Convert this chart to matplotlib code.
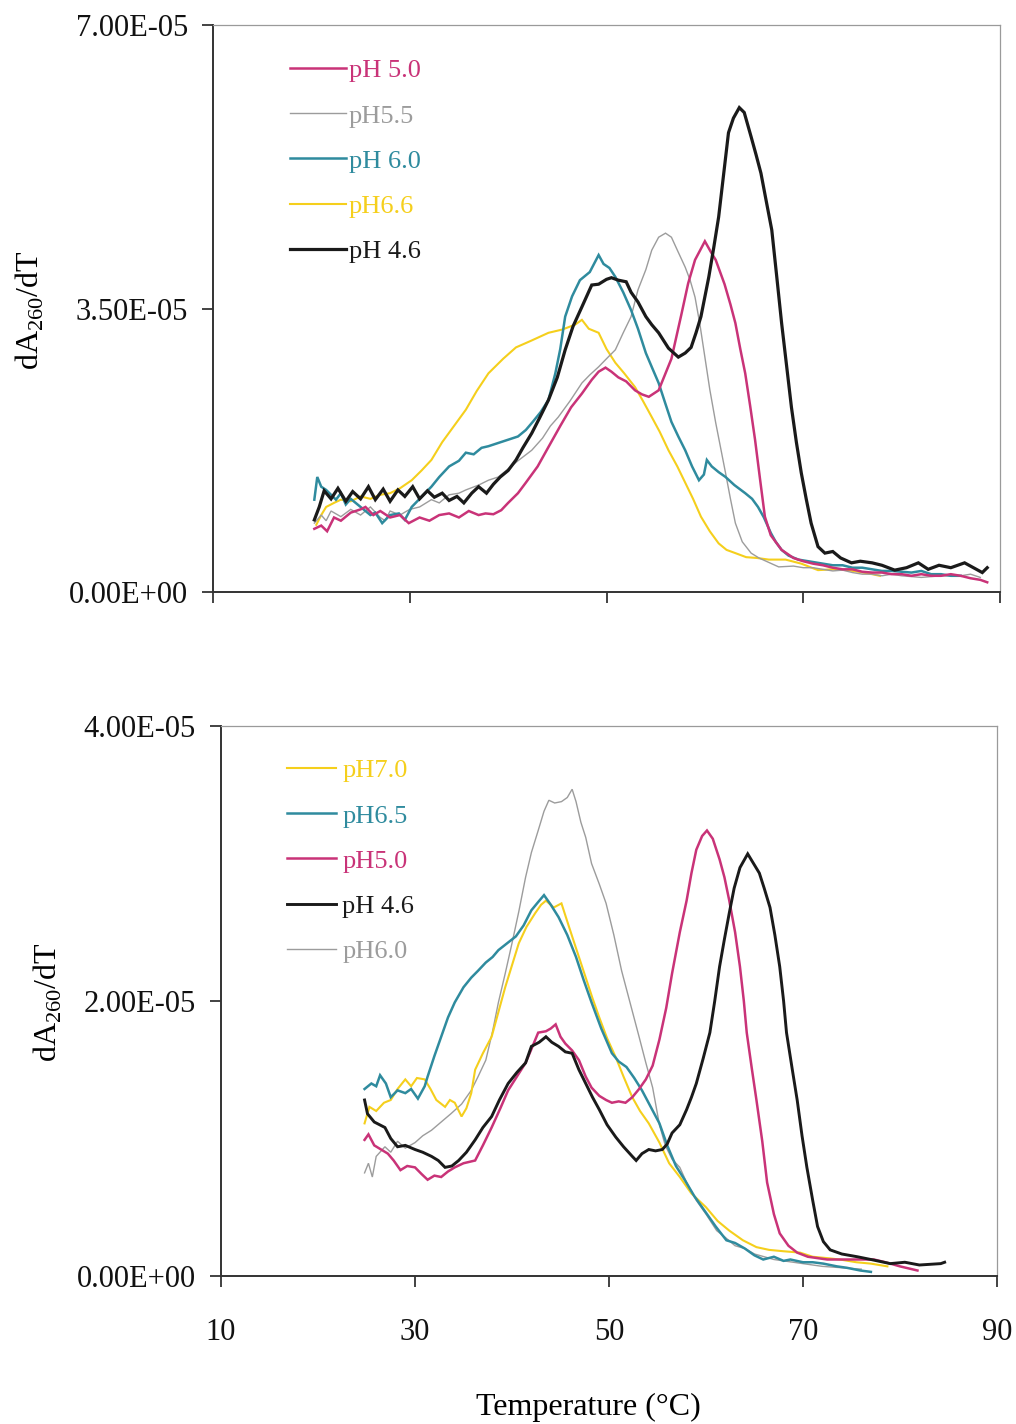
import matplotlib
matplotlib.use("Agg")
import matplotlib.pyplot as plt
import numpy as np

plt.rcParams['font.family'] = ['Liberation Serif', 'DejaVu Serif']
plt.rcParams['mathtext.fontset'] = 'custom'
plt.rcParams['mathtext.rm'] = 'Liberation Serif'

SCALE = 1e-5  # derivative values below are in units of 1e-5

# ---------------- Upper panel: melting derivative curves ----------------
top_ph50_T = [20.3, 21, 21.6, 22.3, 23, 24, 25, 25.5, 26.3, 27, 28, 29, 29.9, 31, 32, 33, 34, 35, 36, 37,
              37.7, 38.5, 39.3, 40, 41, 41.8, 43, 44.1, 45.3, 46.4, 47.5, 48.5, 49.2, 49.9, 50.5, 51.2, 52,
              52.9, 53.6, 54.3, 55.3, 56, 56.6, 57.1, 57.6, 58.3, 59, 60, 60.6, 61.1, 62, 62.6, 63.1, 63.6,
              64.1, 64.6, 65.1, 65.6, 66.1, 66.7, 67.8, 69, 70, 71, 72, 73, 74, 75, 76, 77, 78, 79, 80, 81,
              82, 83, 84, 85, 86, 87, 88, 88.7]
top_ph50_v = [0.78, 0.82, 0.75, 0.92, 0.88, 0.98, 1.02, 1.05, 0.95, 1.00, 0.92, 0.95, 0.85, 0.92, 0.88, 0.95,
              0.97, 0.92, 1.00, 0.95, 0.97, 0.96, 1.01, 1.10, 1.22, 1.35, 1.55, 1.79, 2.05, 2.28, 2.45, 2.62,
              2.72, 2.77, 2.72, 2.65, 2.60, 2.49, 2.44, 2.41, 2.49, 2.70, 2.88, 3.15, 3.42, 3.81, 4.10, 4.33,
              4.20, 4.10, 3.80, 3.55, 3.32, 3.00, 2.70, 2.30, 1.88, 1.40, 0.93, 0.70, 0.52, 0.42, 0.38, 0.35,
              0.33, 0.30, 0.28, 0.28, 0.25, 0.24, 0.24, 0.22, 0.22, 0.20, 0.22, 0.20, 0.20, 0.22, 0.20, 0.17,
              0.15, 0.12]

top_ph55_T = [20.3, 21, 21.5, 22, 23, 24, 25, 26, 27, 27.5, 28, 29, 30, 31, 32.2, 33, 34, 35, 35.7, 37, 38,
              39, 40, 41, 42.4, 43.5, 44.3, 45.1, 46.3, 47.5, 48.3, 49.2, 50, 50.9, 51.7, 52.5, 53.2, 54,
              54.6, 55.3, 56, 56.6, 57.2, 58, 58.5, 59, 59.5, 60, 60.5, 61.1, 61.6, 62.1, 62.6, 63.1, 63.8,
              64.7, 65.5, 67.5, 69, 70, 71, 72, 73, 74, 75, 76, 77, 78, 79, 80, 82, 84, 86, 87, 88]
top_ph55_v = [0.85, 0.95, 0.88, 1.00, 0.93, 1.02, 0.95, 1.05, 0.92, 0.88, 1.00, 0.95, 1.02, 1.05, 1.14, 1.10,
              1.20, 1.22, 1.26, 1.32, 1.38, 1.42, 1.52, 1.62, 1.75, 1.90, 2.05, 2.16, 2.36, 2.58, 2.68, 2.78,
              2.88, 2.99, 3.20, 3.40, 3.73, 3.98, 4.22, 4.38, 4.43, 4.38, 4.22, 4.01, 3.85, 3.64, 3.30, 2.90,
              2.50, 2.09, 1.78, 1.47, 1.15, 0.85, 0.62, 0.48, 0.42, 0.31, 0.32, 0.30, 0.30, 0.28, 0.26, 0.27,
              0.24, 0.22, 0.22, 0.20, 0.22, 0.20, 0.18, 0.20, 0.20, 0.22, 0.18]

top_ph60_T = [20.3, 20.6, 21, 21.5, 22, 22.5, 23, 23.5, 24, 25, 26, 26.5, 27.2, 28, 28.9, 29.5, 30.2, 31,
              32.2, 33, 34, 35, 35.7, 36.5, 37.3, 38, 39, 40, 41, 41.8, 42.5, 43.3, 44.1, 44.8, 45.3, 45.8,
              46.5, 47.3, 48.3, 49.2, 49.7, 50.3, 50.9, 51.7, 52.5, 53.2, 54, 54.7, 55.3, 56, 56.6, 57.3, 58,
              58.7, 59.4, 59.9, 60.2, 60.7, 61.4, 62.1, 63, 64.1, 64.8, 65.4, 66, 66.7, 67.2, 67.8, 68.5,
              69.5, 70.5, 72, 73, 74, 75, 76, 77, 78, 79, 80, 81, 82, 83, 84, 85, 86]
top_ph60_v = [1.14, 1.42, 1.30, 1.26, 1.20, 1.14, 1.22, 1.08, 1.15, 1.05, 0.95, 0.98, 0.85, 0.95, 0.97, 0.89,
              1.05, 1.15, 1.30, 1.42, 1.55, 1.62, 1.72, 1.70, 1.78, 1.80, 1.84, 1.88, 1.92, 2.00, 2.10, 2.22,
              2.37, 2.70, 3.00, 3.40, 3.65, 3.85, 3.95, 4.16, 4.05, 4.00, 3.89, 3.70, 3.48, 3.25, 2.95, 2.75,
              2.58, 2.32, 2.10, 1.92, 1.75, 1.55, 1.38, 1.45, 1.63, 1.55, 1.48, 1.42, 1.32, 1.22, 1.15, 1.05,
              0.92, 0.73, 0.62, 0.52, 0.45, 0.40, 0.38, 0.35, 0.33, 0.33, 0.30, 0.30, 0.28, 0.26, 0.26, 0.25,
              0.24, 0.26, 0.22, 0.22, 0.20, 0.20]

top_ph66_T = [20.5, 21, 21.5, 22.3, 23, 24, 25, 26, 27, 28, 29, 30.2, 31.2, 32.2, 33.3, 34.5, 35.7, 36.8,
              38, 39.5, 40.8, 42.3, 44.1, 45.5, 46.8, 47.5, 48.2, 49.2, 50, 50.9, 51.8, 52.9, 53.7, 54.6,
              55.4, 56.3, 57.2, 58, 58.8, 59.6, 60.5, 61.4, 62.2, 63.1, 64.2, 65.3, 66.5, 68.2, 69.8, 71.5,
              73, 74.5, 76.6, 77.8]
top_ph66_v = [0.83, 0.95, 1.05, 1.10, 1.14, 1.12, 1.18, 1.15, 1.20, 1.22, 1.28, 1.38, 1.50, 1.63, 1.85, 2.05,
              2.25, 2.48, 2.70, 2.88, 3.02, 3.10, 3.20, 3.24, 3.30, 3.36, 3.25, 3.20, 3.00, 2.83, 2.70, 2.53,
              2.36, 2.16, 1.98, 1.75, 1.55, 1.35, 1.15, 0.93, 0.75, 0.60, 0.52, 0.48, 0.43, 0.42, 0.40, 0.40,
              0.35, 0.27, 0.28, 0.27, 0.23, 0.20]

top_ph46_T = [20.3, 20.8, 21.3, 22, 22.7, 23.5, 24.2, 25, 25.8, 26.5, 27.3, 28, 28.8, 29.5, 30.3, 31, 31.8,
              32.5, 33.3, 34, 34.8, 35.5, 36.3, 37, 37.8, 38.5, 39.2, 40, 40.8, 41.5, 42.4, 43.2, 44.1, 45,
              45.8, 46.6, 47.5, 48.5, 49.2, 50, 50.5, 51.2, 52, 52.5, 53.2, 54, 54.6, 55.3, 56.3, 57.3, 58,
              58.6, 59.1, 59.6, 60.4, 60.9, 61.4, 61.9, 62.4, 62.9, 63.5, 64, 64.7, 65.2, 65.7, 66.2, 66.8,
              67.3, 67.8, 68.3, 68.8, 69.3, 69.8, 70.3, 70.8, 71.5, 72.2, 73, 73.8, 74.9, 75.8, 77, 78,
              79.3, 80.5, 81.7, 82.7, 83.8, 85, 86.4, 87.3, 88.2, 88.7]
top_ph46_v = [0.89, 1.05, 1.25, 1.15, 1.28, 1.12, 1.24, 1.15, 1.30, 1.14, 1.27, 1.12, 1.26, 1.18, 1.30, 1.15,
              1.25, 1.17, 1.22, 1.13, 1.18, 1.10, 1.22, 1.30, 1.22, 1.33, 1.42, 1.50, 1.63, 1.78, 1.96, 2.15,
              2.37, 2.65, 2.99, 3.28, 3.52, 3.79, 3.80, 3.86, 3.88, 3.85, 3.83, 3.70, 3.58, 3.40, 3.30, 3.20,
              3.01, 2.90, 2.95, 3.02, 3.20, 3.40, 3.89, 4.25, 4.63, 5.15, 5.67, 5.85, 5.98, 5.92, 5.62, 5.40,
              5.17, 4.85, 4.47, 3.90, 3.32, 2.80, 2.28, 1.85, 1.47, 1.15, 0.85, 0.56, 0.48, 0.50, 0.42, 0.36,
              0.38, 0.36, 0.33, 0.27, 0.30, 0.36, 0.28, 0.33, 0.30, 0.36, 0.30, 0.24, 0.30]

# ---------------- Lower panel ----------------
bot_ph70_T = [24.8, 25.3, 26, 26.8, 27.5, 28.2, 29, 29.6, 30.2, 31, 31.6, 32.2, 33.1, 33.6, 34.1, 34.8, 35.3,
              35.8, 36.2, 37, 37.9, 38.6, 39.3, 40, 40.7, 41.5, 42.4, 43, 43.5, 44.3, 45.1, 45.6, 46.2, 46.9,
              47.6, 48.3, 49, 49.8, 50.7, 51.5, 52.4, 53.2, 54.1, 55.2, 56.2, 57.3, 58.5, 60, 61.2, 62.4,
              63.8, 65.2, 66.5, 68, 69.7, 71, 72.5, 73.8, 75.5, 77, 78.7]
bot_ph70_v = [1.11, 1.23, 1.20, 1.26, 1.28, 1.36, 1.43, 1.38, 1.44, 1.43, 1.36, 1.28, 1.23, 1.28, 1.26, 1.16,
              1.22, 1.33, 1.50, 1.62, 1.74, 1.92, 2.10, 2.26, 2.42, 2.54, 2.64, 2.70, 2.73, 2.68, 2.71, 2.60,
              2.47, 2.32, 2.17, 2.02, 1.88, 1.73, 1.59, 1.45, 1.30, 1.20, 1.11, 0.97, 0.82, 0.72, 0.60, 0.50,
              0.40, 0.33, 0.26, 0.21, 0.19, 0.18, 0.17, 0.14, 0.13, 0.12, 0.10, 0.09, 0.07]

bot_ph65_T = [24.8, 25.5, 26, 26.4, 27, 27.5, 28.2, 29, 29.6, 30.3, 31, 31.3, 32, 32.7, 33.4, 34.1, 35, 35.8,
              36.5, 37.3, 38, 38.6, 39.5, 40.4, 41.2, 42, 42.7, 43.3, 44, 44.8, 45.7, 46.6, 47.4, 48.2, 49.2,
              50.3, 51, 51.8, 52.6, 53.4, 54.3, 55.2, 56, 56.9, 57.8, 58.8, 60, 61, 62.1, 63, 64, 65, 65.9,
              67, 68, 68.7, 70, 71, 72.1, 73.5, 74.5, 75.9, 77]
bot_ph65_v = [1.36, 1.40, 1.38, 1.46, 1.40, 1.30, 1.35, 1.33, 1.36, 1.29, 1.38, 1.45, 1.60, 1.74, 1.88, 1.99,
              2.10, 2.17, 2.22, 2.28, 2.32, 2.37, 2.42, 2.47, 2.55, 2.66, 2.72, 2.77, 2.70, 2.61, 2.48, 2.32,
              2.15, 1.99, 1.80, 1.62, 1.56, 1.52, 1.44, 1.35, 1.23, 1.11, 0.95, 0.80, 0.70, 0.58, 0.46, 0.36,
              0.26, 0.24, 0.20, 0.15, 0.12, 0.14, 0.11, 0.12, 0.10, 0.10, 0.09, 0.07, 0.06, 0.04, 0.03]

bot_ph50_T = [24.8, 25.2, 25.8, 26.5, 27.2, 27.8, 28.5, 29.2, 30, 30.7, 31.3, 32, 32.7, 33.4, 34.1, 35, 36.2,
              37, 37.9, 38.8, 39.6, 40.5, 41.4, 42, 42.7, 43.5, 44, 44.5, 45, 45.5, 46.2, 46.9, 47.6, 48.2,
              49, 49.7, 50.3, 51, 51.7, 52.4, 53.1, 53.8, 54.5, 55.2, 55.9, 56.5, 57.3, 58, 58.5, 59, 59.6,
              60.1, 60.7, 61.4, 61.9, 62.4, 63, 63.5, 63.9, 64.2, 64.7, 65.2, 65.8, 66.3, 67, 67.6, 68.5,
              69.4, 70.5, 72.5, 74, 75.5, 77.3, 78.5, 80, 81.8]
bot_ph50_v = [0.99, 1.03, 0.95, 0.92, 0.89, 0.84, 0.77, 0.80, 0.79, 0.74, 0.70, 0.73, 0.72, 0.76, 0.79, 0.82,
              0.84, 0.95, 1.08, 1.22, 1.35, 1.45, 1.55, 1.65, 1.77, 1.78, 1.80, 1.83, 1.74, 1.69, 1.64, 1.57,
              1.45, 1.37, 1.31, 1.28, 1.26, 1.27, 1.26, 1.30, 1.36, 1.43, 1.53, 1.72, 1.95, 2.20, 2.50, 2.73,
              2.93, 3.10, 3.20, 3.24, 3.18, 3.03, 2.90, 2.73, 2.50, 2.25, 2.00, 1.77, 1.52, 1.28, 0.98, 0.68,
              0.45, 0.31, 0.22, 0.17, 0.14, 0.12, 0.12, 0.12, 0.12, 0.10, 0.07, 0.04]

bot_ph46_T = [24.8, 25.1, 25.8, 26.9, 27.5, 28.2, 29, 30, 30.8, 31.7, 32.4, 33.1, 33.8, 34.5, 35.3, 36.2, 37,
              37.9, 38.7, 39.6, 40.5, 41.4, 42, 42.8, 43.5, 44.1, 44.8, 45.5, 46.2, 46.9, 47.6, 48.3, 49,
              49.8, 50.7, 51.5, 52.4, 52.8, 53.4, 54.1, 54.8, 55.5, 56, 56.5, 57.3, 58, 58.5, 59, 59.7, 60.4,
              60.9, 61.4, 61.9, 62.4, 62.9, 63.5, 64.3, 64.9, 65.5, 66, 66.6, 67.1, 67.6, 68, 68.3, 68.9,
              69.4, 69.9, 70.4, 71, 71.5, 72.1, 72.8, 74, 75.6, 77, 79, 80.5, 82, 84.2, 84.6]
bot_ph46_v = [1.28, 1.18, 1.12, 1.08, 1.00, 0.94, 0.95, 0.92, 0.90, 0.87, 0.84, 0.79, 0.80, 0.84, 0.90, 0.99,
              1.08, 1.16, 1.28, 1.40, 1.48, 1.55, 1.67, 1.70, 1.74, 1.70, 1.67, 1.63, 1.62, 1.50, 1.40, 1.30,
              1.21, 1.10, 1.01, 0.94, 0.87, 0.84, 0.89, 0.92, 0.91, 0.92, 0.96, 1.04, 1.10, 1.21, 1.30, 1.40,
              1.58, 1.77, 2.00, 2.25, 2.45, 2.64, 2.82, 2.97, 3.07, 3.00, 2.93, 2.82, 2.68, 2.48, 2.25, 2.00,
              1.77, 1.50, 1.28, 1.02, 0.79, 0.55, 0.36, 0.25, 0.19, 0.16, 0.14, 0.12, 0.09, 0.10, 0.08, 0.09,
              0.10]

bot_ph60_T = [24.8, 25.2, 25.6, 26, 26.9, 27.5, 28.2, 29, 30, 30.8, 31.7, 32.7, 33.7, 34.8, 35.8, 36.5, 37.3,
              38, 38.6, 39.3, 40, 40.7, 41.4, 42, 42.7, 43.3, 43.8, 44.4, 45.1, 45.7, 46.2, 46.6, 47.1, 47.6,
              48.2, 49, 49.7, 50.5, 51.3, 52.2, 53.1, 53.8, 54.5, 55.2, 55.8, 56.5, 57.3, 58, 59, 60, 61.1,
              62, 63, 64, 65, 66, 67, 68, 70, 72, 74, 76]
bot_ph60_v = [0.75, 0.82, 0.72, 0.87, 0.94, 0.90, 0.98, 0.93, 0.97, 1.02, 1.06, 1.12, 1.18, 1.25, 1.35, 1.45,
              1.57, 1.78, 1.99, 2.20, 2.42, 2.65, 2.90, 3.08, 3.24, 3.38, 3.46, 3.44, 3.45, 3.48, 3.54, 3.45,
              3.30, 3.19, 3.00, 2.85, 2.71, 2.48, 2.22, 1.98, 1.74, 1.55, 1.37, 1.10, 0.95, 0.85, 0.79, 0.68,
              0.55, 0.45, 0.33, 0.28, 0.22, 0.20, 0.16, 0.14, 0.12, 0.11, 0.09, 0.07, 0.06, 0.05]

top_series = [
    ("pH 5.0", top_ph50_T, top_ph50_v, "#c93378", 1.8, 4),
    ("pH5.5", top_ph55_T, top_ph55_v, "#9c9c9c", 1.0, 2),
    ("pH 6.0", top_ph60_T, top_ph60_v, "#2f8b9e", 1.8, 3),
    ("pH6.6", top_ph66_T, top_ph66_v, "#f5cf1c", 1.5, 1),
    ("pH 4.6", top_ph46_T, top_ph46_v, "#1a1a1a", 2.3, 5),
]
bot_series = [
    ("pH7.0", bot_ph70_T, bot_ph70_v, "#f5cf1c", 1.5, 2),
    ("pH6.5", bot_ph65_T, bot_ph65_v, "#2f8b9e", 1.8, 3),
    ("pH5.0", bot_ph50_T, bot_ph50_v, "#c93378", 1.8, 4),
    ("pH 4.6", bot_ph46_T, bot_ph46_v, "#1a1a1a", 2.1, 5),
    ("pH6.0", bot_ph60_T, bot_ph60_v, "#9c9c9c", 1.0, 1),
]

x_ticks = [10, 30, 50, 70, 90]
top_y_ticks = [0.0, 3.5e-5, 7.0e-5]
bot_y_ticks = [0.0, 2.0e-5, 4.0e-5]

W, H = 1016, 1424
fig = plt.figure(figsize=(W / 100, H / 100), dpi=100)
ax_top = fig.add_axes([213 / W, 1 - 592 / H, 787 / W, 567 / H])
ax_bot = fig.add_axes([221 / W, 1 - 1276 / H, 776 / W, 550 / H])


def style_axes(ax, yticks, ymax, show_xlabels):
    ax.set_xlim(10, 90)
    ax.set_ylim(0, ymax)
    ax.set_xticks(x_ticks)
    ax.set_yticks(yticks)
    ax.set_yticklabels(['{:.2E}'.format(v) for v in yticks])
    if show_xlabels:
        ax.set_xticklabels([str(t) for t in x_ticks])
    else:
        ax.set_xticklabels([])
    ax.tick_params(axis='both', direction='out', length=8, width=1.2, colors='#222222',
                   labelsize=22, labelcolor='#111111')
    ax.tick_params(axis='y', pad=10)
    ax.tick_params(axis='x', pad=22)
    for side in ('left', 'bottom'):
        ax.spines[side].set_color('#333333')
        ax.spines[side].set_linewidth(1.4)
    for side in ('top', 'right'):
        ax.spines[side].set_color('#9a9a9a')
        ax.spines[side].set_linewidth(0.9)


for ax, series, yticks, ymax, showx in (
        (ax_top, top_series, top_y_ticks, 7.0e-5, False),
        (ax_bot, bot_series, bot_y_ticks, 4.0e-5, True)):
    for label, T, v, color, lw, z in series:
        ax.plot(T, np.asarray(v) * SCALE, color=color, lw=lw, label=label, zorder=z,
                solid_joinstyle='miter')
    style_axes(ax, yticks, ymax, showx)

ax_top.legend(loc='upper left', bbox_to_anchor=(0.098, 0.94), frameon=False, fontsize=19,
              handlelength=2.1, handletextpad=0.12, labelspacing=0.82, borderpad=0,
              borderaxespad=0, labelcolor='linecolor')
ax_bot.legend(loc='upper left', bbox_to_anchor=(0.085, 0.94), frameon=False, fontsize=19,
              handlelength=1.85, handletextpad=0.25, labelspacing=0.82, borderpad=0,
              borderaxespad=0, labelcolor='linecolor')

ylabel = r'dA$_{\mathregular{260}}$/dT'
fig.text(30 / W, 1 - 310 / H, ylabel, rotation=90, ha='center', va='center', fontsize=23)
fig.text(48 / W, 1 - 1002 / H, ylabel, rotation=90, ha='center', va='center', fontsize=23)
fig.text(588 / W, 1 - 1407 / H, 'Temperature (°C)', ha='center', va='center', fontsize=23)

fig.savefig('out.png', dpi=100, facecolor='white')
